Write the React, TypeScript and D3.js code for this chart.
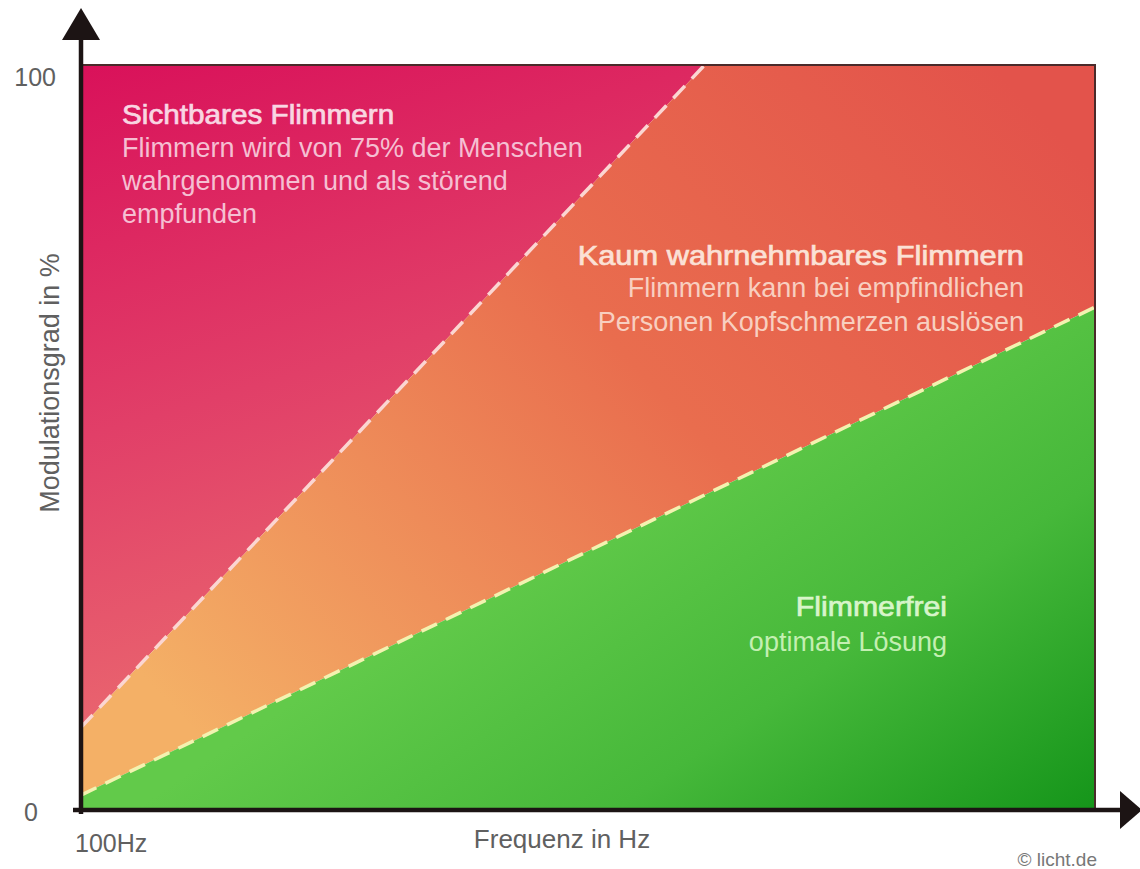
import React from "react";
import * as d3 from "d3";

// Chart values
const xDomain: [number, number] = [0, 100];
const yDomain: [number, number] = [0, 100];
const yTickLabels = ["0", "100"];
const yTickValues = [0, 100];
const xStartLabel = "100Hz";
const xTitle = "Frequenz in Hz";
const yTitle = "Modulationsgrad in %";
const credit = "© licht.de";

// Boundary between visible and barely perceptible flicker (x in % of axis, y in %)
const upperBoundary = [
  { x: 0, y: 11.1 },
  { x: 61.5, y: 100 },
];
// Boundary between barely perceptible flicker and flicker-free
const lowerBoundary = [
  { x: 0, y: 2.0 },
  { x: 100, y: 67.5 },
];

const zoneTitles = ["Sichtbares Flimmern", "Kaum wahrnehmbares Flimmern", "Flimmerfrei"];
const zoneTexts = [
  ["Flimmern wird von 75% der Menschen", "wahrgenommen und als störend", "empfunden"],
  ["Flimmern kann bei empfindlichen", "Personen Kopfschmerzen auslösen"],
  ["optimale Lösung"],
];

const W = 1140;
const H = 869;
const M = { left: 81, right: 1095, top: 65, bottom: 810 };
const FONT = "'Liberation Sans', Arial, Helvetica, sans-serif";

// Zone headings: medium weight, slightly widened
function Heading(props: { x: number; y: number; anchor: "start" | "end"; fill: string; sx: number; children: string }) {
  return (
    <text
      transform={`translate(${props.x},${props.y}) scale(${props.sx},1)`}
      textAnchor={props.anchor}
      fontSize={27}
      fill={props.fill}
      stroke={props.fill}
      strokeWidth={0.7}
    >
      {props.children}
    </text>
  );
}

export default function App() {
  const x = d3.scaleLinear().domain(xDomain).range([M.left, M.right]);
  const y = d3.scaleLinear().domain(yDomain).range([M.bottom, M.top]);

  const line = d3
    .line<{ x: number; y: number }>()
    .x((d) => x(d.x))
    .y((d) => y(d.y));

  // Zone polygons in data space
  const redZone = [{ x: 0, y: 100 }, upperBoundary[1], upperBoundary[0]];
  const orangeZone = [
    upperBoundary[1],
    { x: 100, y: 100 },
    lowerBoundary[1],
    lowerBoundary[0],
    upperBoundary[0],
  ];
  const greenZone = [lowerBoundary[0], lowerBoundary[1], { x: 100, y: 0 }, { x: 0, y: 0 }];
  const poly = d3
    .line<{ x: number; y: number }>()
    .x((d) => x(d.x))
    .y((d) => y(d.y))
    .curve(d3.curveLinearClosed);

  const axisColor = "#1c1414";
  const labelColor = "#606060";
  const zoneTitleFill = ["#f9d6e2", "#fbe1d6", "#d8f5ca"];
  const zoneTextFill = ["#f5bfd2", "#f8cfc0", "#c4efb2"];

  return (
    <svg
      width={W}
      height={H}
      style={{ position: "absolute", left: 0, top: 0, background: "#fff" }}
      fontFamily={FONT}
    >
      <defs>
        <linearGradient id="gRed" gradientUnits="userSpaceOnUse" x1={x(0)} y1={y(100)} x2={x(20)} y2={y(8)}>
          <stop offset="0" stopColor="#d9115a" />
          <stop offset="0.5" stopColor="#e13f68" />
          <stop offset="1" stopColor="#eb6e70" />
        </linearGradient>
        <linearGradient id="gOrange" gradientUnits="userSpaceOnUse" x1={x(90)} y1={y(100)} x2={x(15)} y2={y(5)}>
          <stop offset="0" stopColor="#e3534b" />
          <stop offset="0.45" stopColor="#e96d4e" />
          <stop offset="1" stopColor="#f4b066" />
        </linearGradient>
        <linearGradient id="gGreen" gradientUnits="userSpaceOnUse" x1={x(70)} y1={y(60)} x2={x(100)} y2={y(0)}>
          <stop offset="0" stopColor="#62ca4a" />
          <stop offset="0.5" stopColor="#46b83a" />
          <stop offset="1" stopColor="#15951a" />
        </linearGradient>
      </defs>

      {/* Zones */}
      <path d={poly(redZone) ?? ""} fill="url(#gRed)" />
      <path d={poly(orangeZone) ?? ""} fill="url(#gOrange)" />
      <path d={poly(greenZone) ?? ""} fill="url(#gGreen)" />

      {/* Boundaries */}
      <path
        d={line(upperBoundary) ?? ""}
        fill="none"
        stroke="#fbd6d2"
        strokeWidth={3.5}
        strokeDasharray="17 10"
      />
      <path
        d={line(lowerBoundary) ?? ""}
        fill="none"
        stroke="#f3f2b0"
        strokeWidth={3.5}
        strokeDasharray="17 10"
      />

      {/* Frame top and right */}
      <path
        d={`M${x(0)},${y(100)}H${x(100)}V${y(0)}`}
        fill="none"
        stroke="#4a2a2a"
        strokeWidth={2}
      />

      {/* Axes with arrows */}
      <line x1={x(0)} y1={y(0) + 4} x2={x(0)} y2={38} stroke={axisColor} strokeWidth={4.5} />
      <path d={`M${x(0)},8L${x(0) + 19},40L${x(0) - 19},40Z`} fill={axisColor} />
      <line x1={x(0) - 8} y1={y(0)} x2={1122} y2={y(0)} stroke={axisColor} strokeWidth={4.5} />
      <path d={`M1142,${y(0)}L1120,${y(0) - 19}L1120,${y(0) + 19}Z`} fill={axisColor} />

      {/* Y ticks */}
      {yTickValues.map((v, i) => (
        <text
          key={v}
          x={v === 0 ? 38 : 56}
          y={y(v) + (v === 0 ? 11 : 21)}
          textAnchor="end"
          fontSize={25}
          fill={labelColor}
        >
          {yTickLabels[i]}
        </text>
      ))}

      {/* Axis labels */}
      <text x={x(0) - 6} y={852} fontSize={25} fill={labelColor}>
        {xStartLabel}
      </text>
      <text x={562} y={848} textAnchor="middle" fontSize={26} fill={labelColor}>
        {xTitle}
      </text>
      <text
        transform={`translate(59,383) rotate(-90)`}
        textAnchor="middle"
        fontSize={27}
        fill={labelColor}
      >
        {yTitle}
      </text>
      <text x={1097} y={866} textAnchor="end" fontSize={19} fill="#777">
        {credit}
      </text>

      {/* Zone annotations */}
      <Heading x={122} y={124} anchor="start" fill={zoneTitleFill[0]} sx={1.1}>
        {zoneTitles[0]}
      </Heading>
      {zoneTexts[0].map((t, i) => (
        <text key={t} x={122} y={157 + i * 33} fontSize={27} fill={zoneTextFill[0]}>
          {t}
        </text>
      ))}

      <Heading x={1024} y={265} anchor="end" fill={zoneTitleFill[1]} sx={1.14}>
        {zoneTitles[1]}
      </Heading>
      {zoneTexts[1].map((t, i) => (
        <text key={t} x={1024} y={297 + i * 34} textAnchor="end" fontSize={27} fill={zoneTextFill[1]}>
          {t}
        </text>
      ))}

      <Heading x={947} y={616} anchor="end" fill={zoneTitleFill[2]} sx={1.12}>
        {zoneTitles[2]}
      </Heading>
      {zoneTexts[2].map((t, i) => (
        <text key={t} x={947} y={651 + i * 34} textAnchor="end" fontSize={27} fill={zoneTextFill[2]}>
          {t}
        </text>
      ))}
    </svg>
  );
}
